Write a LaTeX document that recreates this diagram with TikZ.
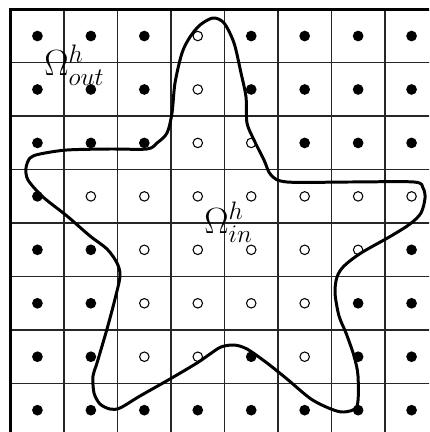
\documentclass[tikz,border=0pt]{standalone}
\usepackage{fontspec}
\begin{document}
\begin{tikzpicture}[x=0.02cm,y=-0.02cm,
  gridline/.style={black!85,line width=0.85pt},
  border/.style={black,line width=1.8pt},
  dotf/.style={circle,fill=black,draw=none,inner sep=0pt,minimum size=6.1pt},
  doto/.style={circle,fill=white,draw=black,line width=0.6pt,inner sep=0pt,minimum size=5.4pt},
  curve/.style={black,line width=1.7pt,line join=round},
  lbl/.style={inner sep=0pt,font=\fontsize{22}{26}\selectfont}]
\useasboundingbox (0,0) rectangle (429,432);
\begin{scope}
\clip (0,0) rectangle (429,432);
\foreach \k in {1,...,7} {
  \draw[gridline] ({10.7+53.45*\k},9.3) -- ({10.7+53.45*\k},440);
  \draw[gridline] (10.7,{9.3+53.45*\k}) -- (440,{9.3+53.45*\k});
}
\draw[border] (10.7,9.3) rectangle (438.3,436.9);
\foreach \r/\pat in {0/{f,f,f,o,f,f,f,f},1/{f,f,f,o,f,f,f,f},2/{f,f,f,o,o,f,f,f},3/{f,o,o,o,o,o,o,o},4/{f,f,o,o,o,o,o,f},5/{f,f,o,o,o,o,f,f},6/{f,f,o,o,f,o,f,f},7/{f,f,f,f,f,f,f,f}} {
  \foreach \s [count=\c from 0] in \pat {
    \node[dot\s] (d\r\c) at ({10.7+53.45*(\c+0.5)},{9.3+53.45*(\r+0.5)}) {};
  }
}
\draw[curve] plot[smooth cycle,tension=0.5] coordinates {
 (213,18) (224,23) (234,43) (241,73) (246,97) (247,123) (254,140) (264,160)
 (271,175) (287,182) (350,182) (414,182) (423,188) (425,198) (421,213)
 (410,224) (391,236) (361,253) (344,266) (337,277) (335,293) (339,316)
 (346,333) (354,356) (358,376) (357,406) (344,412) (331,409) (311,399)
 (287,379) (267,363) (247,349) (234,345) (221,347) (210,354) (197,363)
 (170,379) (140,396) (120,408) (110,409) (100,404) (94,393) (93,376)
 (97,363) (107,329) (115,299) (120,276) (117,263) (107,249) (90,236)
 (67,216) (43,197) (28,180) (26,168) (30,158) (40,154) (67,150) (110,149)
 (147,149) (157,143) (167,133) (172,113) (175,83) (182,53) (190,37) (200,25)};
\end{scope}
\node[lbl,anchor=base west] (out) at (44,76) {$\Omega^h_{out}$};
\node[lbl,anchor=base west] (in) at (204,233) {$\Omega^h_{in}$};
\end{tikzpicture}
\end{document}
